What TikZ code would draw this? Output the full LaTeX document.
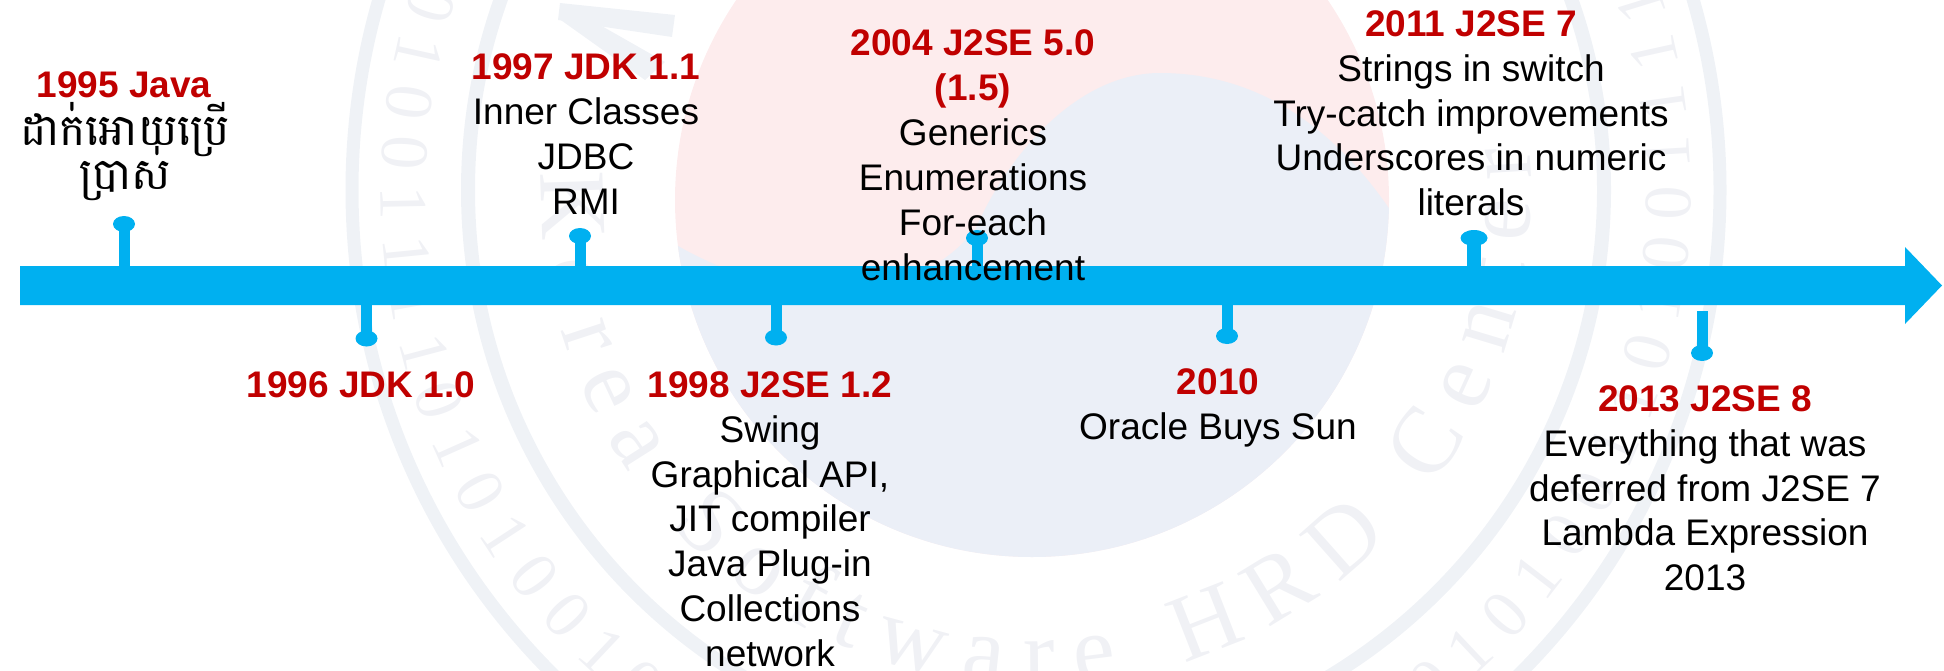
\documentclass[tikz,border=0pt]{standalone}
\usepackage{fontspec}
\usetikzlibrary{shapes.geometric,decorations.text}
\setmainfont{Liberation Sans}
\newfontfamily\wmserif{Liberation Serif}
\newfontfamily\khmerfont[Script=Khmer]{Battambang}
\definecolor{barblue}{HTML}{00B0F0}
\definecolor{headred}{HTML}{C00000}
\definecolor{wmred}{HTML}{FDECED}
\definecolor{wmblue}{HTML}{EBEFF7}
\definecolor{wmring}{HTML}{EFF2F6}
\definecolor{wmtext}{HTML}{F0F1F5}
\lineskiplimit=-200pt
\newcommand{\hd}[1]{\textcolor{headred}{\bfseries\rule{0pt}{30pt}#1}}
\newcommand{\hdn}[1]{\textcolor{headred}{\bfseries #1}}
\tikzset{
  x=1pt,y=-1pt,
  blk/.style={anchor=north,inner sep=0pt,align=center,text=black,font=\fontsize{37}{44.9}\selectfont},
  khm/.style={anchor=north,inner sep=0pt,align=center,text=black,font=\khmerfont\fontsize{44}{44}\selectfont},
  dot/.style={ellipse,fill=barblue,inner sep=0pt,minimum width=22pt,minimum height=16pt},
  stem/.style={draw=barblue,line width=11pt}
}
\begin{document}
\begin{tikzpicture}
\useasboundingbox (0,0) rectangle (1944,670);
% pale seal behind the timeline
\begin{scope}
  \clip (0,0) rectangle (1944,670);
  \fill[wmred] (1032,200) circle[radius=357];
  \begin{scope}
    \clip (1032,200) circle[radius=357];
    \fill[wmblue] (660,235) .. controls (760,300) and (900,320) .. (975,230)
      .. controls (1010,150) and (1080,73) .. (1160,73)
      .. controls (1260,73) and (1340,130) .. (1400,225)
      -- (1400,600) -- (660,600) -- cycle;
  \end{scope}
  \draw[wmring,line width=14pt] (1036,190) circle[radius=568];
  \draw[wmring,line width=13pt] (1036,190) circle[radius=684];
  \fill[wmring] (560,3) -- (675,15) -- (672,37) -- (558,20) -- cycle;
  \fill[wmring] (558,18) -- (600,25) -- (665,62) -- (645,80) -- cycle;
  \begin{scope}[shift={(1036pt,-190pt)},y=1pt]
    \path[decorate,decoration={text along path,text align=fit to path,
      text={|\color{wmtext}\wmserif\fontsize{95}{95}\selectfont|Korea Software HRD Center}}]
      (178:495) arc[start angle=178,end angle=365,radius=495];
    \path[decorate,decoration={text along path,text align=fit to path,
      text={|\color{wmtext}\wmserif\fontsize{68}{68}\selectfont|0100101101001111010100100100010101000001010100110100111101000110}}]
      (125:655) arc[start angle=125,end angle=415,radius=655];
  \end{scope}
\end{scope}
% timeline bar
\coordinate (bartop) at (0,266);
\coordinate (barbot) at (0,305);
\fill[barblue] (20,266) -- (1905,266) -- (1905,247) -- (1942,285.5) -- (1905,324) -- (1905,305) -- (20,305) -- cycle;
% markers
\node[dot] (d95) at (124,224) {};
\node[dot] (d96) at (366.5,338.5) {};
\node[dot] (d97) at (580,236) {};
\node[dot] (d98) at (776,337.5) {};
\node[dot] (d04) at (977,238) {};
\node[dot] (d10) at (1227,336) {};
\node[dot,minimum width=27pt] (d11) at (1474,238) {};
\node[dot] (d13) at (1702,353) {};
\coordinate (t13) at (1702,311);
\draw[stem] (d95.center) -- (d95.center |- bartop);
\draw[stem] (d96.center) -- (d96.center |- barbot);
\draw[stem] (d97.center) -- (d97.center |- bartop);
\draw[stem] (d98.center) -- (d98.center |- barbot);
\draw[stem] (d04.center) -- (d04.center |- bartop);
\draw[stem] (d10.center) -- (d10.center |- barbot);
\draw[stem,line width=14pt] (d11.center) -- (d11.center |- bartop);
\draw[stem] (d13.center) -- (t13);
% labels
\node[blk] (t1995) at (124,67.4) {\hd{1995 Java}};
\node[khm] (t1995k) at (125,102) {\rule{0pt}{33pt}ដាក់អោយប្រើ\\ប្រាស់};
\node[blk] (t1996) at (361,367) {\hd{1996 JDK 1.0}};
\node[blk] (t1997) at (586,49.5) {\hd{1997 JDK 1.1}\\Inner Classes\\JDBC\\RMI};
\node[blk] (t1998) at (770,367) {\hd{1998 J2SE 1.2}\\Swing\\Graphical API,\\JIT compiler\\Java Plug-in\\Collections\\network};
\node[blk] (t2004) at (973,25.6) {\hd{2004 J2SE 5.0}\\\hdn{(1.5)}\\Generics\\Enumerations\\For-each\\enhancement};
\node[blk] (t2010) at (1218,364) {\hd{2010}\\Oracle Buys Sun};
\node[blk] (t2011) at (1471,6) {\hd{2011 J2SE 7}\\Strings in switch\\Try-catch improvements\\Underscores in numeric\\literals};
\node[blk] (t2013) at (1705,381) {\hd{2013 J2SE 8}\\Everything that was\\deferred from J2SE 7\\Lambda Expression\\2013};
\end{tikzpicture}
\end{document}
